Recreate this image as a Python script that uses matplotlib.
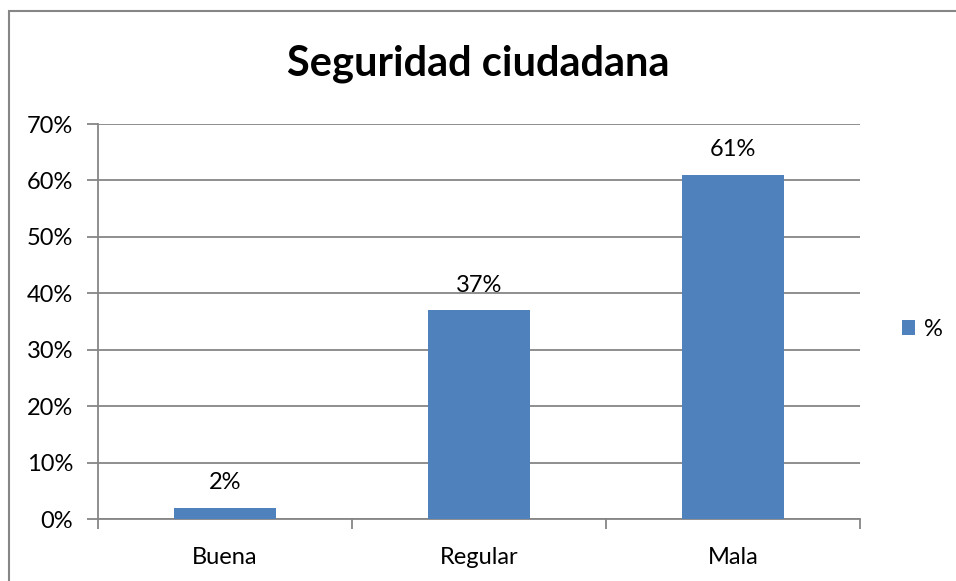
import matplotlib.pyplot as plt
from matplotlib.patches import Rectangle
from matplotlib.ticker import PercentFormatter

categories = ["Buena", "Regular", "Mala"]
values = [2, 37, 61]
series_name = "%"

plt.rcParams['font.family'] = ['Lato', 'DejaVu Sans']

W, H = 956, 581
fig = plt.figure(figsize=(W / 100, H / 100), dpi=100)
ax = fig.add_axes([98 / W, 1 - 519 / H, (860 - 98) / W, (519 - 124) / H])

bar_color = "#4f81bd"
grid_color = "#868686"

x = range(len(categories))
bars = ax.bar(x, values, width=0.4, color=bar_color, label=series_name, zorder=3)
for b, v in zip(bars, values):
    ax.text(b.get_x() + b.get_width() / 2, v + 2.6, "{0}%".format(v),
            ha="center", va="bottom", fontsize=17, color="black")

ax.set_xlim(-0.5, 2.5)
ax.set_ylim(0, 70)
ax.set_yticks(range(0, 71, 10))
ax.yaxis.set_major_formatter(PercentFormatter(decimals=0))
ax.set_xticks(list(x))
ax.set_xticklabels(categories)
ax.set_xticks([-0.5, 0.5, 1.5, 2.5], minor=True)
ax.tick_params(axis="x", which="major", length=0, labelsize=17, pad=20)
ax.tick_params(axis="x", which="minor", length=7, color=grid_color, width=1.3)
ax.tick_params(axis="y", length=8, color=grid_color, width=1.3, labelsize=17, pad=10)
ax.yaxis.grid(True, color=grid_color, linewidth=1.3, zorder=0)

for s in ["top", "right"]:
    ax.spines[s].set_visible(False)
for s in ["left", "bottom"]:
    ax.spines[s].set_color(grid_color)
    ax.spines[s].set_linewidth(1.3)

fig.text(0.5, 1 - 64 / H, "Seguridad ciudadana", ha="center", va="center",
         fontsize=30, fontweight="bold")

ax.legend(loc="center left", bbox_to_anchor=(1.027, 0.48), frameon=False,
          fontsize=17, handlelength=0.55, handleheight=0.55, handletextpad=0.4)

# chart area border, cut off at the right and bottom edges
fig.patches.append(Rectangle((9 / W, -0.05), 1.0, 1.05 - 11 / H,
                             transform=fig.transFigure, fill=False,
                             edgecolor=grid_color, linewidth=1.5))

fig.savefig("out.png", dpi=100)
